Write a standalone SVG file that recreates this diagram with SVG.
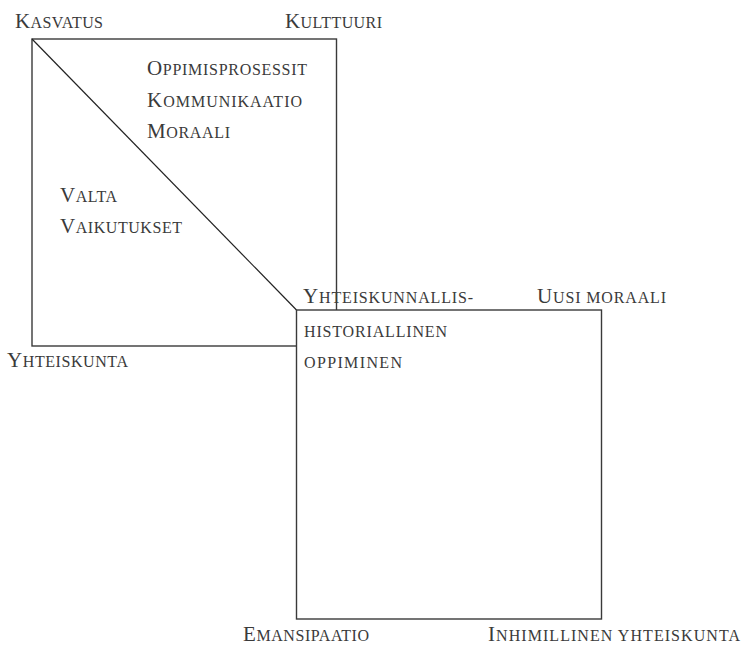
<svg xmlns="http://www.w3.org/2000/svg" width="742" height="645" viewBox="0 0 742 645">
<style>
.box{fill:#fff;stroke:#3a3a3a;stroke-width:1.4}
.line{stroke:#222;stroke-width:1.2;fill:none}
text{font-family:"Liberation Serif","Times New Roman",serif;fill:#3a3a3a;font-size:16px}
.c{font-size:21px}
</style>
<rect width="742" height="645" fill="#fff"/>
<g id="box1">
<rect class="box" x="32" y="39" width="304.5" height="307"/>
</g>
<g id="connectors">
<line class="line" x1="32" y1="39" x2="296.5" y2="310"/>
</g>
<g id="box2">
<rect class="box" x="296.5" y="310" width="305" height="309"/>
</g>
<g id="labels-box1">
<text id="kasvatus" x="15" y="28" textLength="88" lengthAdjust="spacing"><tspan class="c">K</tspan>ASVATUS</text>
<text id="kulttuuri" x="285" y="28" textLength="97" lengthAdjust="spacing"><tspan class="c">K</tspan>ULTTUURI</text>
<text id="oppimisprosessit" x="147" y="75" textLength="160" lengthAdjust="spacing"><tspan class="c">O</tspan>PPIMISPROSESSIT</text>
<text id="kommunikaatio" x="147" y="107" textLength="155" lengthAdjust="spacing"><tspan class="c">K</tspan>OMMUNIKAATIO</text>
<text id="moraali" x="147" y="138" textLength="83" lengthAdjust="spacing"><tspan class="c">M</tspan>ORAALI</text>
<text id="valta" x="60" y="202" textLength="57" lengthAdjust="spacing"><tspan class="c">V</tspan>ALTA</text>
<text id="vaikutukset" x="60" y="233" textLength="122" lengthAdjust="spacing"><tspan class="c">V</tspan>AIKUTUKSET</text>
<text id="yhteiskunta" x="7" y="367" textLength="121" lengthAdjust="spacing"><tspan class="c">Y</tspan>HTEISKUNTA</text>
</g>
<g id="labels-box2">
<text id="yhteiskunnallis" x="303" y="303" textLength="170" lengthAdjust="spacing"><tspan class="c">Y</tspan>HTEISKUNNALLIS-</text>
<text id="uusi-moraali" x="537" y="303" textLength="129" lengthAdjust="spacing"><tspan class="c">U</tspan>USI MORAALI</text>
<text id="historiallinen" x="304" y="337" textLength="143" lengthAdjust="spacing">HISTORIALLINEN</text>
<text id="oppiminen" x="304" y="368" textLength="98" lengthAdjust="spacing">OPPIMINEN</text>
<text id="emansipaatio" x="243" y="641" textLength="126" lengthAdjust="spacing"><tspan class="c">E</tspan>MANSIPAATIO</text>
<text id="inhimillinen" x="488" y="641" textLength="252" lengthAdjust="spacing"><tspan class="c">I</tspan>NHIMILLINEN YHTEISKUNTA</text>
</g>
</svg>
